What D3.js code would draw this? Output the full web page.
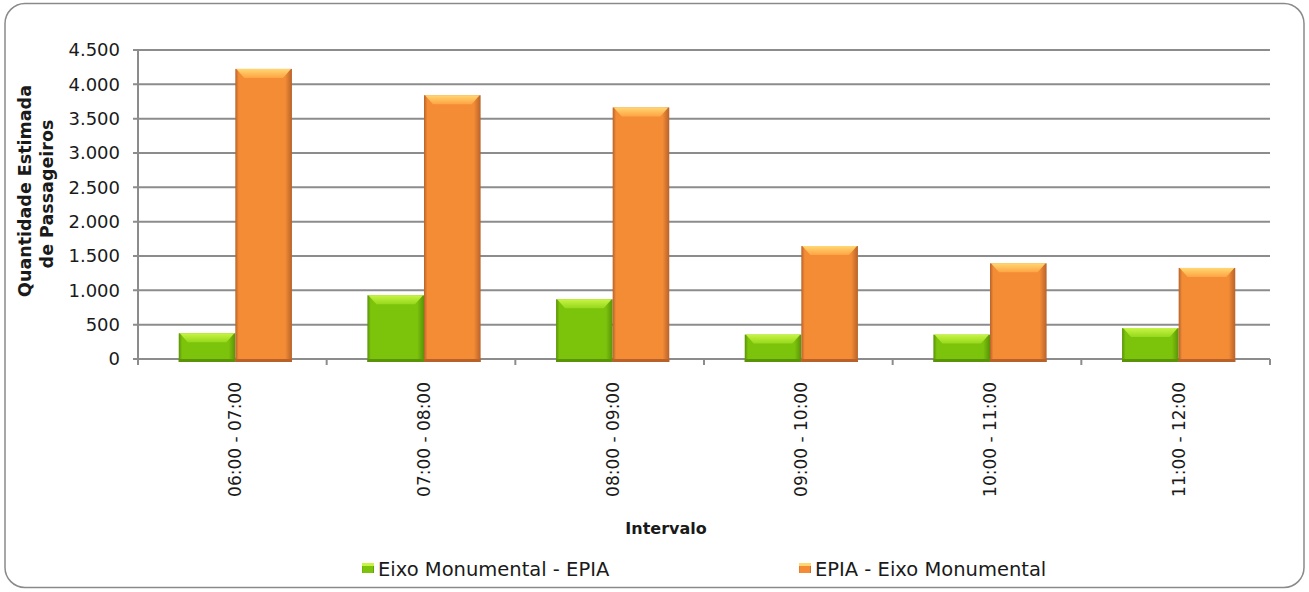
<!DOCTYPE html>
<html><head><meta charset="utf-8">
<script src="https://cdn.jsdelivr.net/npm/d3@7"></script>
<style>
html,body{margin:0;padding:0;background:#fff;}
svg{display:block;font-family:"DejaVu Sans",Lato,sans-serif;}
</style></head>
<body>
<svg id="chart" width="1309" height="592"></svg>
<script>
const categories = ["06:00 - 07:00","07:00 - 08:00","08:00 - 09:00","09:00 - 10:00","10:00 - 11:00","11:00 - 12:00"];
const seriesNames = ["Eixo Monumental - EPIA","EPIA - Eixo Monumental"];
const eixoEpia = [375, 928, 870, 356, 355, 450];
const epiaEixo = [4225, 3842, 3664, 1645, 1394, 1326];
const yTicks = [0,500,1000,1500,2000,2500,3000,3500,4000,4500];
const yTitle = ["Quantidade Estimada","de Passageiros"];
const xTitle = "Intervalo";

(function(){
const svg = d3.select("#chart");
const defs = svg.append("defs");

const pal = [
  {main:"#7cc40c", dark:"#5a9208", light:"#c8f444", mid:"#96d81c"},
  {main:"#f48c36", dark:"#b8622a", light:"#ffd872", mid:"#ffa444"}
];
pal.forEach((p,i)=>{
  const g = defs.append("linearGradient").attr("id","h"+i).attr("x1",0).attr("x2",1).attr("y1",0).attr("y2",0);
  g.append("stop").attr("offset","0").attr("stop-color",p.dark);
  g.append("stop").attr("offset","0.06").attr("stop-color",p.main);
  g.append("stop").attr("offset","0.88").attr("stop-color",p.main);
  g.append("stop").attr("offset","1").attr("stop-color",p.dark);
  const t = defs.append("linearGradient").attr("id","t"+i).attr("x1",0).attr("x2",0).attr("y1",0).attr("y2",1);
  t.append("stop").attr("offset","0").attr("stop-color",p.light);
  t.append("stop").attr("offset","1").attr("stop-color",p.mid);
});

// border
svg.append("rect").attr("x",5).attr("y",3.5).attr("width",1299).attr("height",584)
  .attr("rx",20).attr("ry",20).attr("fill","#fff").attr("stroke","#8a8a8a").attr("stroke-width",1.5);

const pl = 138, pr = 1270, pt = 50, pb = 359;
const x = d3.scaleBand().domain(categories).range([pl,pr]).padding(0);
const inner = d3.scaleBand().domain(seriesNames).range([x.bandwidth()*0.2+3, x.bandwidth()*0.8+3]).padding(0);
const y = d3.scaleLinear().domain([0,4500]).range([pb,pt]);
const fmt = v => d3.format(",")(v).replace(/,/g,".");

// gridlines
svg.append("g").selectAll("line").data(yTicks).join("line")
  .attr("x1",pl-5).attr("x2",pr).attr("y1",d=>y(d)).attr("y2",d=>y(d))
  .attr("stroke","#8c8c8c").attr("stroke-width",2);
// y axis line
svg.append("line").attr("x1",pl).attr("x2",pl).attr("y1",pt).attr("y2",pb)
  .attr("stroke","#8c8c8c").attr("stroke-width",2);
// y labels
svg.append("g").selectAll("text").data(yTicks).join("text")
  .attr("x",pl-18).attr("y",d=>y(d)).attr("dy","0.36em").attr("text-anchor","end")
  .attr("font-size",18).attr("fill","#1a1a1a").text(fmt);
// x ticks
svg.append("g").selectAll("line").data(d3.range(categories.length+1)).join("line")
  .attr("x1",i=>pl+i*x.step()).attr("x2",i=>pl+i*x.step())
  .attr("y1",pb).attr("y2",pb+6).attr("stroke","#8c8c8c").attr("stroke-width",2);

// bars
const data = [];
categories.forEach((c,i)=>{
  data.push({c, s:0, v:eixoEpia[i]});
  data.push({c, s:1, v:epiaEixo[i]});
});
const bw = inner.bandwidth();
const gb = svg.append("g").selectAll("g").data(data).join("g");
gb.append("rect")
  .attr("x",d=>x(d.c)+inner(seriesNames[d.s])).attr("y",d=>y(d.v))
  .attr("width",bw).attr("height",d=>pb+3-y(d.v))
  .attr("fill",d=>`url(#h${d.s})`);
gb.append("polygon")
  .attr("points",d=>{
    const x0 = x(d.c)+inner(seriesNames[d.s]), y0 = y(d.v), b = 9;
    return [[x0+1,y0],[x0+bw-1,y0],[x0+bw-b,y0+b],[x0+b,y0+b]].map(p=>p.join(",")).join(" ");
  })
  .attr("fill",d=>`url(#t${d.s})`);
gb.append("rect")
  .attr("x",d=>x(d.c)+inner(seriesNames[d.s])).attr("y",pb)
  .attr("width",bw).attr("height",3)
  .attr("fill",d=>pal[d.s].dark);

// x labels
svg.append("g").selectAll("text").data(categories).join("text")
  .attr("transform",d=>`translate(${x(d)+x.bandwidth()/2+3},382) rotate(-90)`)
  .attr("text-anchor","end").attr("dy","0.36em")
  .attr("font-size",17).attr("fill","#1a1a1a").text(d=>d);

// axis titles
svg.append("text").attr("transform","translate(25,191) rotate(-90)")
  .attr("text-anchor","middle").attr("dy","0.36em")
  .attr("font-size",17.5).attr("font-weight","bold").attr("fill","#1a1a1a").text(yTitle[0]);
svg.append("text").attr("transform","translate(47,194) rotate(-90)")
  .attr("text-anchor","middle").attr("dy","0.36em")
  .attr("font-size",17.5).attr("font-weight","bold").attr("fill","#1a1a1a").text(yTitle[1]);
svg.append("text").attr("x",666).attr("y",528).attr("dy","0.36em")
  .attr("text-anchor","middle").attr("font-size",16).attr("font-weight","bold").attr("fill","#1a1a1a").text(xTitle);

// legend
const legX = [362, 799];
const lg = svg.append("g").selectAll("g").data(seriesNames).join("g")
  .attr("transform",(d,i)=>`translate(${legX[i]},563)`);
lg.append("rect").attr("width",12).attr("height",10).attr("fill",(d,i)=>`url(#h${i})`);
lg.append("rect").attr("width",12).attr("height",3).attr("fill",(d,i)=>pal[i].light);
lg.append("text").attr("x",16).attr("y",13)
  .attr("font-size",19.5).attr("fill","#1a1a1a").text(d=>d);
})();
</script>
</body></html>
